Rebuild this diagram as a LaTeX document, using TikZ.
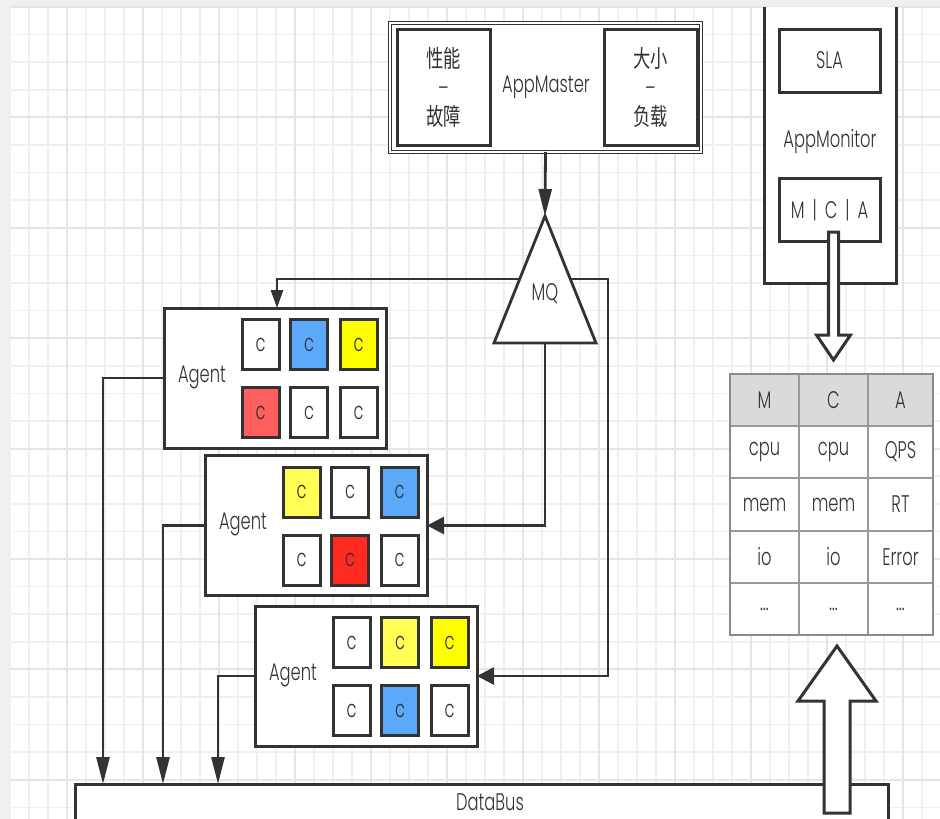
\documentclass[tikz,border=0pt]{standalone}
\usepackage{fontspec}
\setmainfont{Poppins Light}[FakeStretch=0.68]
\newfontfamily\cjk{Noto Sans CJK SC}[FakeStretch=0.72]
\usetikzlibrary{arrows.meta}

\definecolor{ink}{HTML}{333333}
\definecolor{pagegray}{HTML}{F0F0F0}
\definecolor{gridminor}{HTML}{F0F0F0}
\definecolor{gridmajor}{HTML}{E5E5E5}
\definecolor{cblue}{HTML}{5CA9FA}
\definecolor{cyellow}{HTML}{FFFF00}
\definecolor{cyellowlt}{HTML}{FFFF55}
\definecolor{credlt}{HTML}{FF5E5E}
\definecolor{cred}{HTML}{FF2A1F}
\definecolor{tabline}{HTML}{999999}
\definecolor{tabhead}{HTML}{DADADA}

\tikzset{
  txt/.style={font=\fontsize{24}{28}\selectfont},
  box/.style={draw=ink, line width=3pt, fill=white, inner sep=0pt, outer sep=0pt},
  cbox/.style={box, minimum width=37pt, minimum height=50pt, text=ink, txt},
  lbl/.style={text=ink, inner sep=0pt, txt},
  wire/.style={draw=ink, line width=2.8pt},
  varr/.style={wire, -{Triangle[length=27pt,width=13pt]}},
  vsarr/.style={wire, -{Triangle[length=18pt,width=12pt]}},
  harr/.style={wire, -{Triangle[length=17pt,width=17pt]}},
  cell/.style={draw=tabline, line width=1.8pt, fill=white, inner sep=0pt,
    outer sep=0pt, text=ink, txt},
  hollow/.style={draw=ink, line width=3pt, fill=white, line join=miter},
}

% one agent: name, left, top, six container colours
\newcommand\agentbox[9]{%
  \node[box, minimum width=222pt, minimum height=140pt] (#1) at (#2+111,#3+70) {};
  \node[lbl] (#1-t) at (#2+38,#3+69) {Agent};
  \node[cbox, fill=#4] (#1-c1) at (#2+96.5,#3+36.5) {c};
  \node[cbox, fill=#5] (#1-c2) at (#2+145,#3+36.5) {c};
  \node[cbox, fill=#6] (#1-c3) at (#2+194.5,#3+36.5) {c};
  \node[cbox, fill=#7] (#1-c4) at (#2+96.5,#3+104.5) {c};
  \node[cbox, fill=#8] (#1-c5) at (#2+145,#3+104.5) {c};
  \node[cbox, fill=#9] (#1-c6) at (#2+194.5,#3+104.5) {c};
}

\begin{document}
\begin{tikzpicture}[x=1pt,y=-1pt]
\useasboundingbox (0,0) rectangle (940,819);
\clip (0,0) rectangle (940,819);

% canvas and grid
\fill[pagegray] (0,0) rectangle (940,819);
\fill[white] (10,7) rectangle (940,819);
\foreach \k in {0,...,49} \draw[gridminor, line width=1.5pt] (10+19*\k,7) -- (10+19*\k,819);
\foreach \k in {0,...,29} \draw[gridminor, line width=1.5pt] (10,7+27.6*\k) -- (940,7+27.6*\k);
\foreach \k in {0,...,11} \draw[gridmajor, line width=2pt] (67+76*\k,7) -- (67+76*\k,819);
\foreach \k in {0,...,7} \draw[gridmajor, line width=2pt] (10,7+110.4*\k) -- (940,7+110.4*\k);

% AppMaster
\node[box, double, double distance=1.4pt, line width=1.6pt,
      minimum width=311pt, minimum height=129pt] (am) at (545.5,87.5) {};
\node[box, minimum width=93pt, minimum height=116pt] (perf) at (443.5,87) {};
\node[lbl, align=center, font=\fontsize{24}{29}\selectfont] (perft) at (443.5,87) {{\cjk 性能}\\–\\{\cjk 故障}};
\node[box, minimum width=93pt, minimum height=116pt] (size) at (650.5,87) {};
\node[lbl, align=center, font=\fontsize{24}{29}\selectfont] (sizet) at (650.5,87) {{\cjk 大小}\\–\\{\cjk 负载}};
\node[lbl] (amt) at (546,87) {AppMaster};

% MQ
\draw[wire, fill=white] (545,216) coordinate (mqtop) -- (596,343) coordinate (mqbr)
  -- (494,343) coordinate (mqbl) -- cycle;
\coordinate (mqbot) at (545,343);
\coordinate (mql) at (519.7,279);
\coordinate (mqr) at (570.3,279);
\node[lbl] (mqt) at (545,294) {MQ};

% agents
\agentbox{ag1}{164}{308}{white}{cblue}{cyellow}{credlt}{white}{white}
\agentbox{ag2}{205}{455.5}{cyellowlt}{white}{cblue}{white}{cred}{white}
\agentbox{ag3}{255}{606}{white}{cyellowlt}{cyellow}{white}{cblue}{white}

% DataBus
\node[box, anchor=north west, minimum width=813pt, minimum height=60pt] (db) at (75,784) {};
\node[lbl] (dbt) at (490,802) {DataBus};

% dispatch from AppMaster through MQ to the agents
\draw[varr] (am.south) -- (mqtop);
\draw[vsarr] (mql) -| (277,0 |- ag1.north);
\draw[harr] (mqbot) |- (ag2.east);
\draw[harr] (mqr) -- (608,279) |- (ag3.east);

% agents report to the DataBus
\draw[varr] (ag1.west) -| (103,0 |- db.north);
\draw[varr] (ag2.west) -| (163,0 |- db.north);
\draw[varr] (ag3.west) -| (218,0 |- db.north);

% AppMonitor
\node[fill=white, inner sep=0pt, outer sep=0pt, minimum width=132pt, minimum height=276pt] (amon) at (830,145) {};
\draw[wire, line width=3pt] (amon.north west) -- (amon.south west) -- (amon.south east) -- (amon.north east);
\node[box, minimum width=101pt, minimum height=63pt] (sla) at (829.5,60.5) {};
\node[lbl] (slat) at (829.5,60) {SLA};
\node[lbl] (amont) at (830,142) {AppMonitor};
\node[box, minimum width=101pt, minimum height=63pt] (mca) at (829.5,209.5) {};
\node[lbl] (mcat) at (829.5,210) {M\,\,|\,\,C\,\,|\,\,A};

% metrics table
\foreach \cx/\w/\t [count=\i] in {764.5/69/M, 833.5/69/C, 900.5/65/A}
  \node[cell, fill=tabhead, minimum width=\w pt, minimum height=52pt] (th\i) at (\cx,400) {\t};
\foreach \yc/\h/\a/\b/\c [count=\r] in {452/52/cpu/cpu/QPS, 504.5/53/mem/mem/RT, 557/52/io/io/Error, 609/52/{\ldots}/{\ldots}/{\ldots}}{
  \node[cell, minimum width=69pt, minimum height=\h pt] (t\r a) at (764.5,\yc) {\a};
  \node[cell, minimum width=69pt, minimum height=\h pt] (t\r b) at (833.5,\yc) {\b};
  \node[cell, minimum width=65pt, minimum height=\h pt] (t\r c) at (900.5,\yc) {\c};
}
\draw[tabline!90!black, line width=2.4pt] (th1.north west) rectangle (t4c.south east);

% hollow arrows: monitor feeds the table, DataBus feeds the table
\draw[hollow] (828.5,232) -- (828.5,335) -- (816.5,335) -- (833.5,360) -- (850.5,335)
  -- (838.5,335) -- (838.5,232) -- cycle;
\draw[hollow] (824,813) -- (824,701) -- (798,701) -- (837,646) -- (876,701)
  -- (850,701) -- (850,813) -- cycle;
\end{tikzpicture}
\end{document}
